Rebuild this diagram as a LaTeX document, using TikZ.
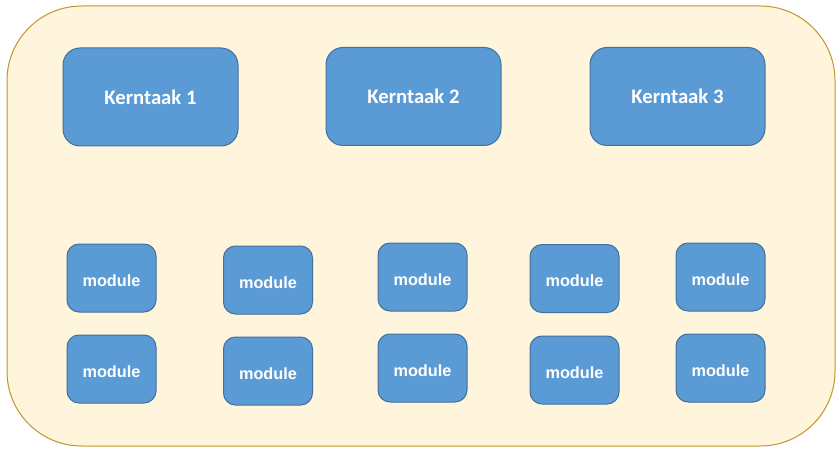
\documentclass[tikz,border=0pt]{standalone}
\usepackage{fontspec}
\usepackage{tikz}
\usetikzlibrary{positioning}
\newfontfamily\kernfont{Carlito}
\newfontfamily\modfont{Liberation Sans}[BoldFont={Liberation Sans Bold}]
\definecolor{creamfill}{RGB}{255, 244, 220}
\definecolor{goldline}{RGB}{191, 150, 40}
\definecolor{boxblue}{RGB}{91, 155, 213}
\definecolor{boxline}{RGB}{65, 113, 156}

\begin{document}
\begin{tikzpicture}[x=0.75pt, y=-0.75pt,
    kernbox/.style={draw=boxline, fill=boxblue, line width=0.75pt, rounded corners=12.75pt,
          minimum width=131.25pt, minimum height=73.5pt, inner sep=0pt, outer sep=0pt,
          text=white, font=\kernfont\bfseries\fontsize{15.5}{18}\selectfont},
    modbox/.style={draw=boxline, fill=boxblue, line width=0.75pt, rounded corners=9pt,
          minimum width=66.75pt, minimum height=51pt, inner sep=0pt, outer sep=0pt,
          text height=12pt, text depth=0pt,
          text=white, font=\modfont\bfseries\fontsize{12.2}{14}\selectfont}]
    \useasboundingbox (0,0) rectangle (840,453);

    % Background panel
    \draw[goldline, fill=creamfill, line width=0.75pt, rounded corners=56pt]
      (7,6) rectangle (835,446);

    % Core tasks
    \node[kernbox] (kern1) at (150.5, 97)   {Kerntaak 1};
    \node[kernbox] (kern2) at (413.5, 96.5) {Kerntaak 2};
    \node[kernbox] (kern3) at (677.5, 96.5) {Kerntaak 3};

    % Modules, upper row
    \node[modbox] (modA1) at (111.5, 278)   {module};
    \node[modbox] (modA2) at (268,   280)   {module};
    \node[modbox] (modA3) at (422.5, 277)   {module};
    \node[modbox] (modA4) at (574.5, 278.5) {module};
    \node[modbox] (modA5) at (720.5, 277)   {module};

    % Modules, lower row
    \node[modbox] (modB1) at (111.5, 369)   {module};
    \node[modbox] (modB2) at (268,   371)   {module};
    \node[modbox] (modB3) at (422.5, 368)   {module};
    \node[modbox] (modB4) at (574.5, 370)   {module};
    \node[modbox] (modB5) at (720.5, 368)   {module};
  \end{tikzpicture}
\end{document}
